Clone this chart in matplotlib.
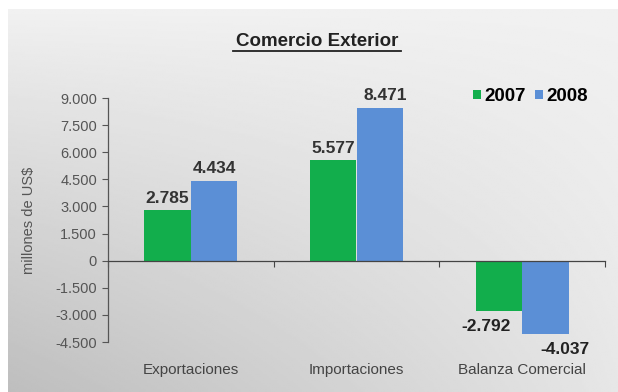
import numpy as np
import matplotlib
matplotlib.use("Agg")
from matplotlib import pyplot as plt
from matplotlib.ticker import FuncFormatter

categories = ["Exportaciones", "Importaciones", "Balanza Comercial"]
years = ["2007", "2008"]
values_2007 = [2785, 5577, -2792]
values_2008 = [4434, 8471, -4037]
yticks = [-4500, -3000, -1500, 0, 1500, 3000, 4500, 6000, 7500, 9000]

green = "#12AE4C"
blue = "#5B8FD6"

plt.rcParams['font.family'] = ['Liberation Sans', 'DejaVu Sans']

fig = plt.figure(figsize=(6.18, 3.92), dpi=100)
fig.patch.set_facecolor("white")

# grey gradient panel behind the chart (light on top/right, darker bottom left)
bg = fig.add_axes([8 / 618, 0, 1 - 8 / 618, 1 - 9 / 392])
gx, gy = np.meshgrid(np.linspace(0, 1, 300), np.linspace(0, 1, 200))
shade = 0.945 - 0.04 * gy - 0.16 * (gy * (1 - gx)) ** 0.9
bg.imshow(shade, cmap="gray", vmin=0, vmax=1, aspect="auto", extent=[0, 1, 0, 1], origin="upper")
bg.axis("off")

ax = fig.add_axes([108 / 618, 1 - 342 / 392, (605 - 108) / 618, (342 - 98) / 392])
ax.set_facecolor("none")

x = np.arange(len(categories))
w = 0.28
b1 = ax.bar(x - w / 2, values_2007, w, color=green, label=years[0], zorder=2)
b2 = ax.bar(x + w / 2, values_2008, w, color=blue, label=years[1], zorder=2)

ax.set_xlim(-0.5, 2.5)
ax.set_ylim(-4500, 9000)
ax.set_yticks(yticks)
ax.yaxis.set_major_formatter(FuncFormatter(lambda v, p: f"{int(v):,}".replace(",", ".")))
ax.tick_params(axis="y", direction="out", length=4, width=0.8, colors="#555555",
               labelsize=10.5, pad=4)

for s in ["top", "right"]:
    ax.spines[s].set_visible(False)
ax.spines["left"].set_color("#555555")
ax.spines["left"].set_linewidth(0.9)
ax.spines["bottom"].set_position(("data", 0))
ax.spines["bottom"].set_color("#444444")
ax.spines["bottom"].set_linewidth(0.9)
ax.set_xticks(np.arange(len(categories) + 1) - 0.5)
ax.set_xticklabels([])
ax.tick_params(axis="x", direction="out", length=4, width=0.8, colors="#444444")

for i, c in enumerate(categories):
    ax.text(i, -0.085, c, transform=ax.get_xaxis_transform(), ha="center", va="top",
            fontsize=11, color="#444444")

ax.set_ylabel("millones de US$", fontsize=10.5, color="#555555", labelpad=14)

def fmt(v):
    return f"{v:,}".replace(",", ".")

offs = [[(0, 0), (0, 0)], [(0, 0), (4, 0)], [(-9, 0), (14, 0)]]
for j, bars in enumerate([b1, b2]):
    for i, r in enumerate(bars):
        v = r.get_height()
        dx = offs[i][j][0]
        if v >= 0:
            ax.annotate(fmt(int(v)), (r.get_x() + r.get_width() / 2, v), xytext=(dx, 3),
                        textcoords="offset points", ha="center", va="bottom",
                        fontsize=12.5, fontweight="bold", color="#333333")
        else:
            ax.annotate(fmt(int(v)), (r.get_x() + r.get_width() / 2, v), xytext=(dx, -6),
                        textcoords="offset points", ha="center", va="top",
                        fontsize=12.5, fontweight="bold", color="#222222")

fig.text(317 / 618, 1 - 42 / 392, "Comercio Exterior", ha="center", va="center",
         fontsize=13.5, fontweight="bold", color="#222222")
fig.add_artist(plt.Line2D([233 / 618, 401 / 618], [1 - 51 / 392, 1 - 51 / 392],
                          color="#222222", lw=1.3))

leg = ax.legend(loc="upper right", bbox_to_anchor=(1.0, 1.11), ncol=2, frameon=False,
                handlelength=0.4, handleheight=0.4, handletextpad=0.2, columnspacing=0.5,
                prop={"weight": "bold", "size": 13.5})

fig.savefig("out.png", dpi=100)
